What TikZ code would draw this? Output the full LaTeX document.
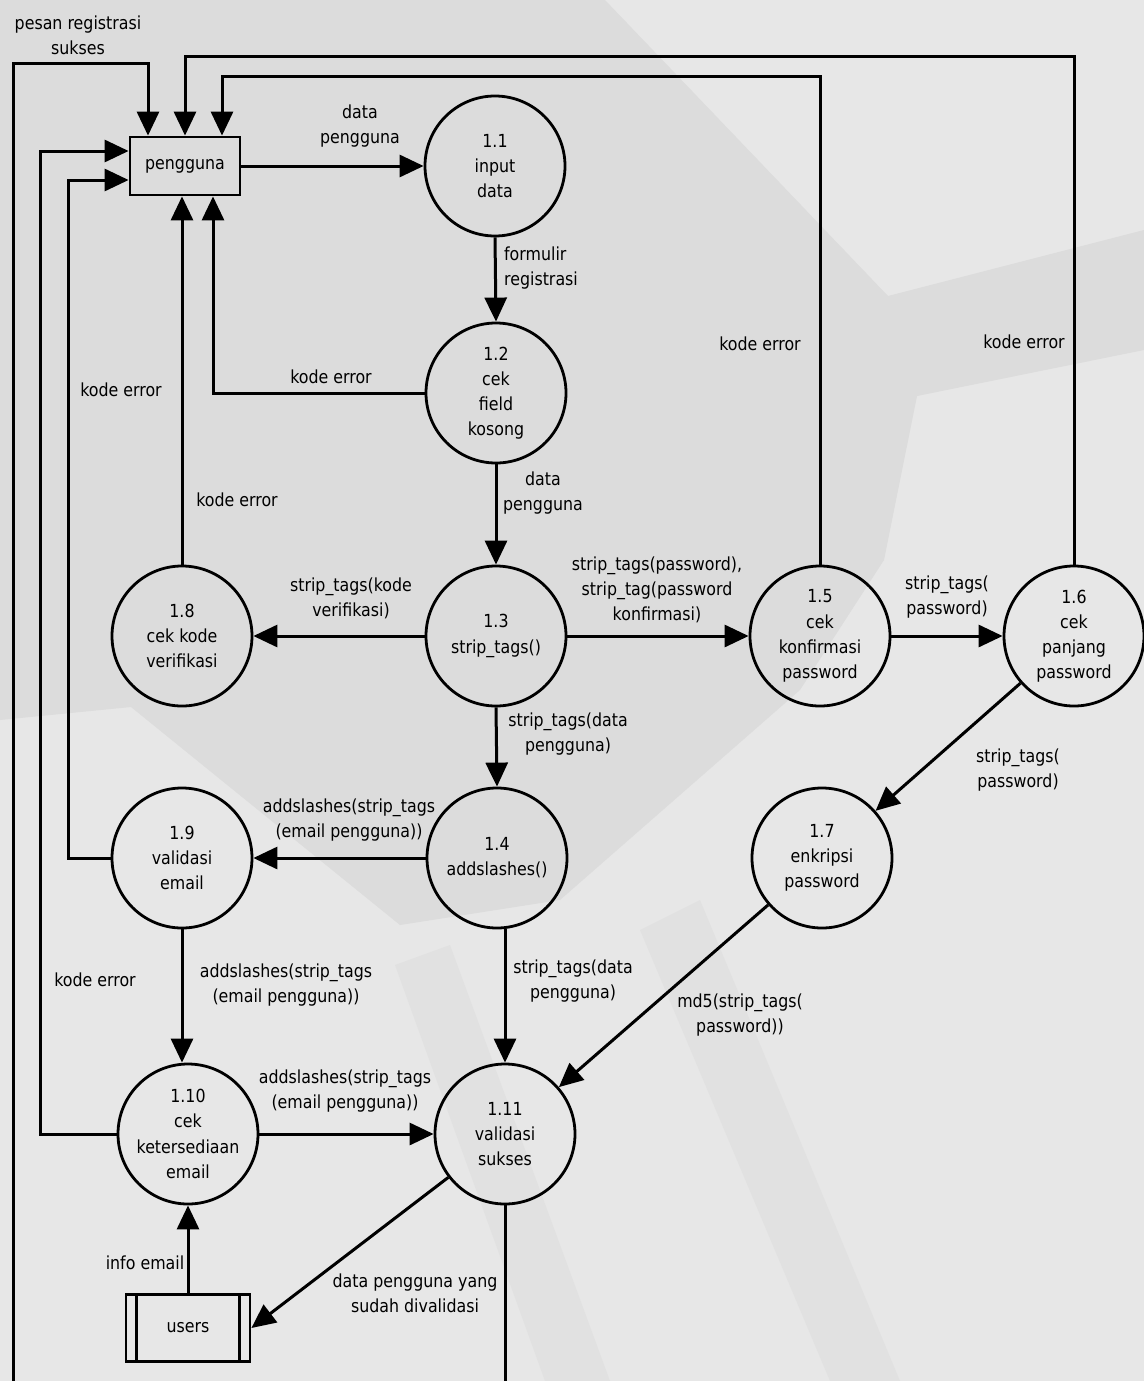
\documentclass[tikz,border=0pt]{standalone}
\usepackage{fontspec}
\setmainfont{DejaVu Sans}[FakeStretch=0.88]
\usetikzlibrary{arrows.meta,calc}

\definecolor{bgdark}{RGB}{220,220,220}
\definecolor{bglight}{RGB}{231,231,231}
\definecolor{bgband}{RGB}{225,225,225}

\newcommand{\dfdfont}{\fontsize{9}{12.6}\selectfont}

\tikzset{
  proc/.style={circle, draw, line width=1.4pt, minimum size=70pt, inner sep=0pt,
    align=center, font=\dfdfont},
  entity/.style={rectangle, draw, line width=1.4pt, minimum width=55pt,
    minimum height=29pt, font=\dfdfont},
  store/.style={rectangle, draw, line width=1.4pt, minimum width=62pt,
    minimum height=33.5pt, font=\dfdfont},
  flow/.style={line width=1.5pt, -{Triangle[length=12pt,width=11pt]}},
  lbl/.style={align=center, font=\dfdfont, inner sep=0pt},
}

\begin{document}
\begin{tikzpicture}[x=0.5pt, y=-0.5pt]
  \useasboundingbox (0,0) rectangle (1144,1381);
  \clip (0,0) rectangle (1144,1381);

  % background
  \fill[bglight] (0,0) rectangle (1144,1381);
  \fill[bgdark] (0,0) -- (605,0) -- (888,296) -- (1144,230) -- (1144,350) -- (917,396)
    -- (884,560) -- (800,690) -- (560,900) -- (400,925) -- (131,707) -- (0,720) -- cycle;
  \fill[bgband] (395,965) -- (450,945) -- (610,1381) -- (545,1381) -- cycle;
  \fill[bgband] (640,930) -- (700,900) -- (900,1381) -- (830,1381) -- cycle;

  % entities and stores
  \node[entity] (pengguna) at (185,166) {pengguna};
  \node[store] (users) at (188,1328) {users};
  \draw[line width=1.4pt] ($(users.north west)+(12,0)$) -- ($(users.south west)+(12,0)$);
  \draw[line width=1.4pt] ($(users.north east)+(-12,0)$) -- ($(users.south east)+(-12,0)$);

  % processes
  \node[proc] (inputdata)   at (495,166)  {1.1\\input\\data};
  \node[proc] (cekfield)    at (496,393)  {1.2\\cek\\field\\kosong};
  \node[proc] (striptags)   at (496,636)  {1.3\\strip\_tags()};
  \node[proc] (cekkode)     at (182,636)  {1.8\\cek kode\\verifikasi};
  \node[proc] (cekkonf)     at (820,636)  {1.5\\cek\\konfirmasi\\password};
  \node[proc] (cekpanjang)  at (1074,636) {1.6\\cek\\panjang\\password};
  \node[proc] (addslashes)  at (497,858)  {1.4\\addslashes()};
  \node[proc] (validemail)  at (182,858)  {1.9\\validasi\\email};
  \node[proc] (enkripsi)    at (822,858)  {1.7\\enkripsi\\password};
  \node[proc] (cekemail)    at (188,1134) {1.10\\cek\\ketersediaan\\email};
  \node[proc] (validsukses) at (505,1134) {1.11\\validasi\\sukses};

  % main flows
  \draw[flow] (pengguna.east) -- (inputdata.west);
  \draw[flow] (inputdata.south) -- (cekfield.north);
  \draw[flow] (cekfield.south) -- (striptags.north);
  \draw[flow] (striptags.west) -- (cekkode.east);
  \draw[flow] (striptags.east) -- (cekkonf.west);
  \draw[flow] (cekkonf.east) -- (cekpanjang.west);
  \draw[flow] (cekpanjang) -- (enkripsi);
  \draw[flow] (striptags.south) -- (addslashes.north);
  \draw[flow] (addslashes.west) -- (validemail.east);
  \draw[flow] (validemail.south) -- (validemail.south |- cekemail.north);
  \draw[flow] (addslashes.south -| validsukses) -- (validsukses.north);
  \draw[flow] (enkripsi) -- (validsukses);
  \draw[flow] (cekemail.east) -- (validsukses.west);
  \draw[flow] (users.north) -- (cekemail.south);
  \draw[flow] (validsukses) -- (users.east);

  % error flows back to pengguna
  \draw[flow] (cekfield.west) -| ($(pengguna.south)+(28,0)$);
  \draw[flow] (cekkode.north) -- (cekkode.north |- pengguna.south);
  \draw[flow] (validemail.west) -| ($(pengguna.west)+(-60,14)$) -- ($(pengguna.west)+(0,14)$);
  \draw[flow] (cekemail.west) -| ($(pengguna.west)+(-88,-15)$) -- ($(pengguna.west)+(0,-15)$);
  \draw[flow] (cekkonf.north) |- ($(pengguna.north)+(37,-59)$) -- ($(pengguna.north)+(37,0)$);
  \draw[flow] (cekpanjang.north) |- ($(pengguna.north)+(0,-79)$) -- (pengguna.north);
  \draw[flow] (validsukses.south) -- ++(0,260) -| ($(pengguna.north)+(-172,-72)$)
    -| ($(pengguna.north)+(-37,0)$);

  % labels
  \node[lbl] at (78,35)    {pesan registrasi\\sukses};
  \node[lbl] at (360,126)  {data\\pengguna};
  \node[lbl, align=left] at (541,268) {formulir\\registrasi};
  \node[lbl] at (331,377)  {kode error};
  \node[lbl] at (121,390)  {kode error};
  \node[lbl] at (237,500)  {kode error};
  \node[lbl] at (760,344)  {kode error};
  \node[lbl] at (1024,342) {kode error};
  \node[lbl] at (543,493)  {data\\pengguna};
  \node[lbl] at (351,598)  {strip\_tags(kode\\verifikasi)};
  \node[lbl] at (657,590)  {strip\_tags(password),\\strip\_tag(password\\konfirmasi)};
  \node[lbl] at (947,597)  {strip\_tags(\\password)};
  \node[lbl] at (568,734)  {strip\_tags(data\\pengguna)};
  \node[lbl] at (1018,770) {strip\_tags(\\password)};
  \node[lbl] at (349,820)  {addslashes(strip\_tags\\(email pengguna))};
  \node[lbl] at (95,980)   {kode error};
  \node[lbl] at (286,985)  {addslashes(strip\_tags\\(email pengguna))};
  \node[lbl] at (573,981)  {strip\_tags(data\\pengguna)};
  \node[lbl] at (740,1015) {md5(strip\_tags(\\password))};
  \node[lbl] at (345,1091) {addslashes(strip\_tags\\(email pengguna))};
  \node[lbl] at (145,1263) {info email};
  \node[lbl] at (415,1293) {data pengguna yang\\sudah divalidasi};
\end{tikzpicture}
\end{document}
